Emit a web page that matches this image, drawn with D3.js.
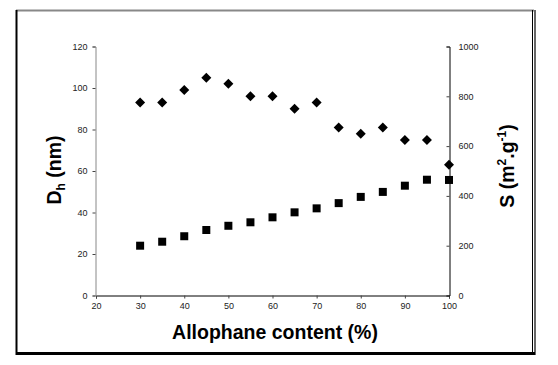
<!DOCTYPE html>
<html><head><meta charset="utf-8">
<script src="https://cdn.jsdelivr.net/npm/d3@7"></script>
<style>body{margin:0;background:#fff;}svg{display:block;font-family:Arial,"Liberation Sans",sans-serif;}</style>
</head><body><svg id="c" width="558" height="365"></svg>
<script>
const allophane = [30,35,40,45,50,55,60,65,70,75,80,85,90,95,100];
const dh = [93,93,99,105,102,96,96,90,93,81,78,81,75,75,63];
const surface = [200,216,238,263,280,294,314,334,350,371,396,416,441,465,464];
const xTicks = [20,30,40,50,60,70,80,90,100];
const leftTicks = [0,20,40,60,80,100,120];
const rightTicks = [0,200,400,600,800,1000];

const svg = d3.select("#c");
// frame
svg.append("line").attr("x1",16).attr("x2",534).attr("y1",10.5).attr("y2",10.5).attr("stroke","#888").attr("stroke-width",2);
svg.append("line").attr("x1",16.5).attr("x2",16.5).attr("y1",10).attr("y2",355).attr("stroke","#000").attr("stroke-width",2);
svg.append("line").attr("x1",16).attr("x2",535).attr("y1",353.5).attr("y2",353.5).attr("stroke","#000").attr("stroke-width",3);
svg.append("line").attr("x1",532.5).attr("x2",532.5).attr("y1",10).attr("y2",355).attr("stroke","#000").attr("stroke-width",1);
svg.append("line").attr("x1",535).attr("x2",535).attr("y1",10).attr("y2",355).attr("stroke","#000").attr("stroke-width",1.2);

const x = d3.scaleLinear().domain([20,100]).range([96,449]);
const yL = d3.scaleLinear().domain([0,120]).range([295.5,46.5]);
const yR = d3.scaleLinear().domain([0,1000]).range([295.5,46.5]);

const gx = svg.append("g").attr("transform","translate(0,295.5)")
  .call(d3.axisBottom(x).tickValues(xTicks).tickSize(3).tickPadding(4).tickFormat(d3.format("d")));
const gl = svg.append("g").attr("transform","translate(95.5,0)")
  .call(d3.axisLeft(yL).tickValues(leftTicks).tickSize(3).tickPadding(5).tickFormat(d3.format("d")));
const gr = svg.append("g").attr("transform","translate(449.5,0)")
  .call(d3.axisLeft(yR).tickValues(rightTicks).tickSize(3).tickPadding(0).tickFormat(d3.format("d")));
gr.selectAll("text").attr("text-anchor","start").attr("x",9);
[gx,gl,gr].forEach(g=>{
  g.selectAll("text").attr("font-size",9).attr("fill","#222").attr("font-family","Arial, Liberation Sans, sans-serif");
  g.selectAll("line").attr("stroke","#444");
});
gl.select(".domain").attr("stroke","#888");
gx.select(".domain").attr("stroke","#000");
gr.select(".domain").attr("stroke","#000");

svg.append("g").selectAll("path").data(allophane).join("path")
  .attr("d", d3.symbol(d3.symbolSquare, 64))
  .attr("transform",(d,i)=>`translate(${x(d)},${yR(surface[i])})`)
  .attr("fill","#000");
svg.append("g").selectAll("path").data(allophane).join("path")
  .attr("d","M0,-5L5,0L0,5L-5,0Z")
  .attr("transform",(d,i)=>`translate(${x(d)},${yL(dh[i])})`)
  .attr("fill","#000");

svg.append("text").attr("x",275).attr("y",339).attr("text-anchor","middle")
  .attr("font-size",19.5).attr("font-weight","bold").text("Allophane content (%)");
const tl = svg.append("text").attr("transform","translate(61,170) rotate(-90)").attr("text-anchor","middle")
  .attr("font-size",19.5).attr("font-weight","bold");
tl.append("tspan").text("D");
tl.append("tspan").attr("font-size",12).attr("dy",4).text("h");
tl.append("tspan").attr("dy",-4).text(" (nm)");
const tr = svg.append("text").attr("transform","translate(514,166) rotate(-90)").attr("text-anchor","middle")
  .attr("font-size",19.5).attr("font-weight","bold");
tr.append("tspan").text("S (m");
tr.append("tspan").attr("font-size",12).attr("dy",-8).text("2");
tr.append("tspan").attr("dy",8).text(".g");
tr.append("tspan").attr("font-size",12).attr("dy",-8).text("-1");
tr.append("tspan").attr("dy",8).text(")");
</script></body></html>
